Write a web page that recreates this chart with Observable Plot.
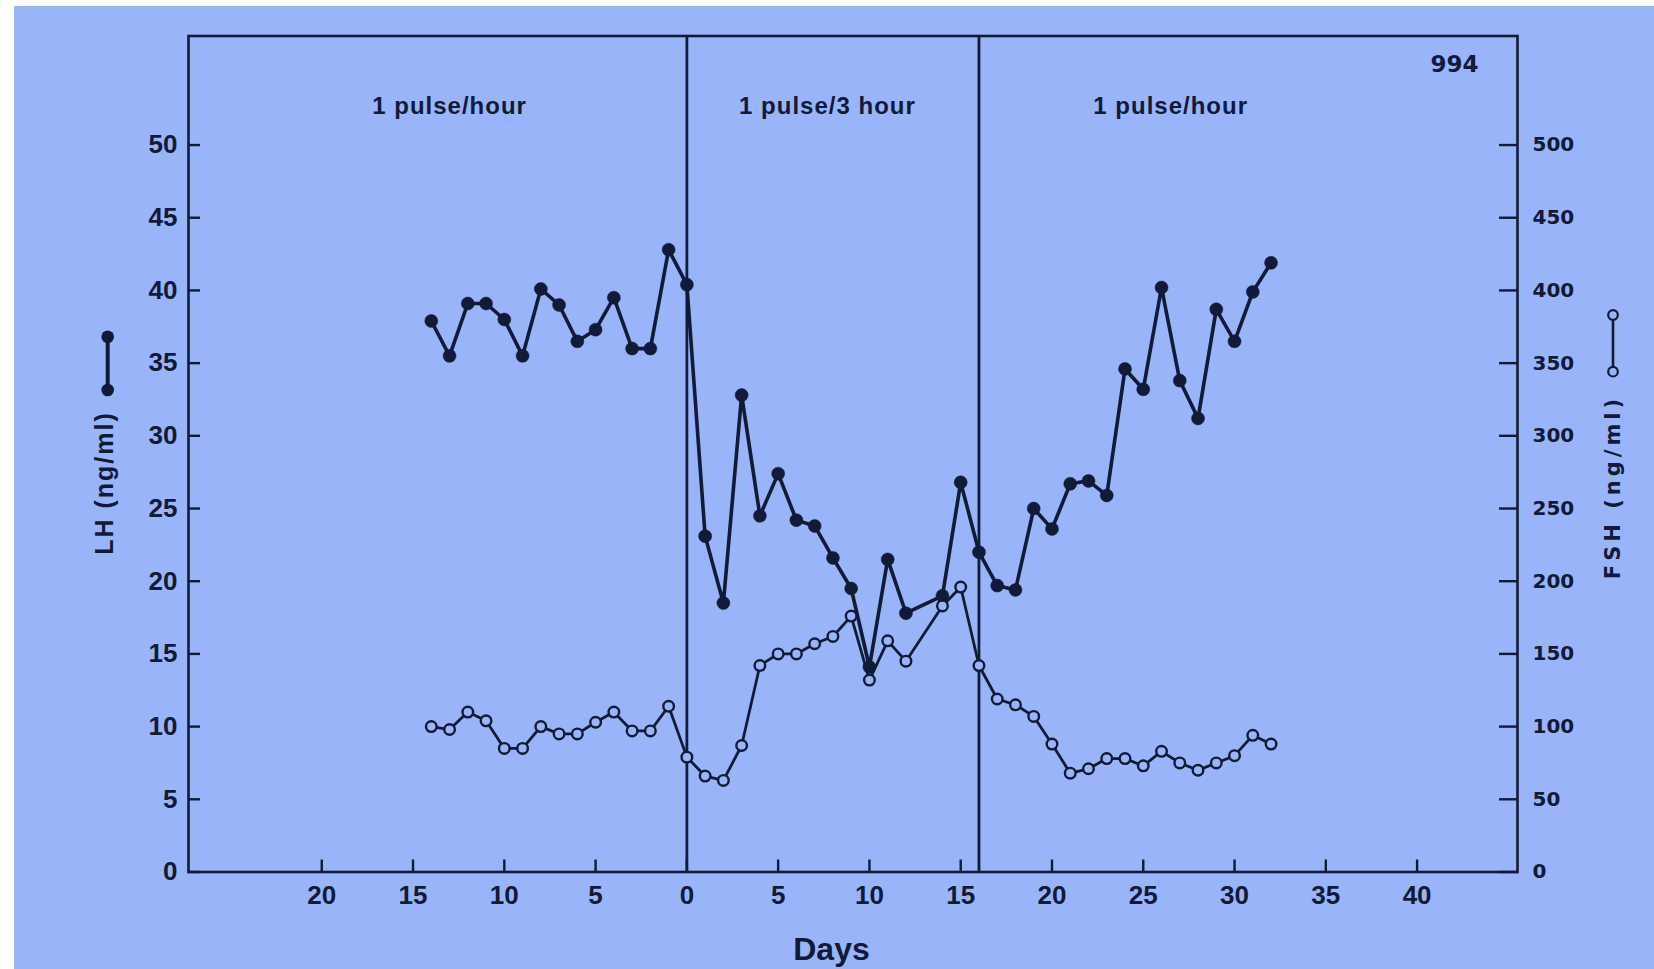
<!DOCTYPE html>
<html>
<head>
<meta charset="utf-8">
<script src="https://cdn.jsdelivr.net/npm/d3@7"></script>
<script src="https://cdn.jsdelivr.net/npm/@observablehq/plot@0.6"></script>
<style>
  html, body { margin: 0; padding: 0; background: #ffffff; width: 1654px; height: 969px; overflow: hidden; }
  #chart { position: absolute; left: 14px; top: 6px; width: 1640px; height: 963px; background: #9ab4fa; }
  #chart svg { display: block; }
</style>
</head>
<body>
<div id="chart"></div>
<script>
// ---- data ----
const days = [-14,-13,-12,-11,-10,-9,-8,-7,-6,-5,-4,-3,-2,-1,0,
  1,2,3,4,5,6,7,8,9,10,11,12,
  14,15,16,17,18,19,20,21,22,23,24,25,26,27,28,29,30,31,32];
const lhValues = [37.9,35.5,39.1,39.1,38.0,35.5,40.1,39.0,36.5,37.3,39.5,36.0,36.0,42.8,40.4,
  23.1,18.5,32.8,24.5,27.4,24.2,23.8,21.6,19.5,14.1,21.5,17.8,
  19.0,26.8,22.0,19.7,19.4,25.0,23.6,26.7,26.9,25.9,34.6,33.2,40.2,33.8,31.2,38.7,36.5,39.9,41.9];
const fshValues = [100,98,110,104,85,85,100,95,95,103,110,97,97,114,79,
  66,63,87,142,150,150,157,162,176,132,159,145,
  183,196,142,119,115,107,88,68,71,78,78,73,83,75,70,75,80,94,88];

const lhTicks = [0,5,10,15,20,25,30,35,40,45,50];
const fshTicks = [0,50,100,150,200,250,300,350,400,450,500];
const dayTicks = [-20,-15,-10,-5,0,5,10,15,20,25,30,35,40];
const phaseBounds = [0, 16];
const phaseLabels = ["1 pulse/hour", "1 pulse/3 hour", "1 pulse/hour"];
const phaseLabelDays = [-13, 7.7, 26.5];
const figureId = "994";
const lhTitle = "LH (ng/ml)";
const fshTitle = "FSH (ng/ml)";
const xTitle = "Days";
const fshPerLh = 10;

const data = days.map((d, i) => ({day: d, lh: lhValues[i], fsh: fshValues[i]}));
const phases = phaseLabels.map((t, i) => ({label: t, day: phaseLabelDays[i]}));

const ink = "#111a36";
const bg = "#9ab4fa";
const sans = "'Liberation Sans', Arial, Helvetica, sans-serif";
const round = "'DejaVu Sans', Verdana, sans-serif";

const chart = Plot.plot({
  width: 1640,
  height: 963,
  marginLeft: 174,
  marginRight: 137,
  marginTop: 29.5,
  marginBottom: 97.5,
  style: {background: "transparent", color: ink, fontFamily: sans, overflow: "visible"},
  x: {domain: [-27.3, 45.5]},
  y: {domain: [0, 57.5]},
  marks: [
    Plot.frame({stroke: ink, strokeWidth: 2.6}),
    Plot.ruleX(phaseBounds, {stroke: ink, strokeWidth: 2.8}),
    Plot.axisY(lhTicks, {anchor: "left", tickSize: -12, tickPadding: 23, fontSize: 26, fontWeight: "bold", stroke: ink, strokeWidth: 2.4, label: null}),
    Plot.axisY(fshTicks.map(v => v / fshPerLh), {anchor: "right", tickSize: -19, tickPadding: 34, tickFormat: d => Math.round(d * fshPerLh), fontFamily: round, fontSize: 20, fontWeight: 600, stroke: ink, strokeWidth: 2.4, label: null}),
    Plot.axisX(dayTicks, {anchor: "bottom", tickSize: -12, tickPadding: 26, tickFormat: d => Math.abs(d), fontSize: 26, fontWeight: "bold", stroke: ink, strokeWidth: 2.4, label: null}),
    Plot.line(data, {x: "day", y: "lh", stroke: ink, strokeWidth: 3.6}),
    Plot.dot(data, {x: "day", y: "lh", r: 6.5, fill: ink, stroke: ink, strokeWidth: 0.5}),
    Plot.line(data, {x: "day", y: d => d.fsh / fshPerLh, stroke: ink, strokeWidth: 2.8}),
    Plot.dot(data, {x: "day", y: d => d.fsh / fshPerLh, r: 5.3, fill: bg, stroke: ink, strokeWidth: 2.4}),
    Plot.text(phases, {x: "day", text: "label", frameAnchor: "top", dy: 70, lineAnchor: "middle", fontSize: 24, fontWeight: "bold", fill: ink}),
    Plot.text([figureId], {frameAnchor: "top-right", dx: -39, dy: 28.5, textAnchor: "end", lineAnchor: "middle", fontFamily: round, fontSize: 23, fontWeight: 600, fill: ink}),
    Plot.text([xTitle], {frameAnchor: "bottom", dx: -21.5, dy: 77.5, lineAnchor: "middle", fontSize: 32, fontWeight: "bold", fill: ink})
  ]
});

document.getElementById("chart").appendChild(chart);

const svg = d3.select(chart);
svg.selectAll("text").each(function() {
  if (this.textContent.startsWith("1 pulse")) this.style.letterSpacing = "1px";
});

// rotated axis titles
svg.append("text")
  .attr("transform", "translate(90,477) rotate(-90)")
  .attr("text-anchor", "middle").attr("dominant-baseline", "central")
  .attr("font-family", sans).attr("font-size", 25).attr("font-weight", "bold")
  .attr("fill", ink).style("letter-spacing", "2px")
  .text(lhTitle);
svg.append("text")
  .attr("transform", "translate(1599,481) rotate(-90)")
  .attr("text-anchor", "middle").attr("dominant-baseline", "central")
  .attr("font-family", round).attr("font-size", 21).attr("font-weight", 600)
  .attr("fill", ink).style("letter-spacing", "4px")
  .text(fshTitle);

// legend glyphs beside the axis titles
const lg = svg.append("g");
lg.append("line").attr("x1", 93.7).attr("x2", 93.7).attr("y1", 330.7).attr("y2", 384)
  .attr("stroke", ink).attr("stroke-width", 4);
lg.selectAll("circle.f").data([330.7, 384]).join("circle")
  .attr("cx", 93.7).attr("cy", d => d).attr("r", 6.3).attr("fill", ink);
const rg = svg.append("g");
rg.append("line").attr("x1", 1599).attr("x2", 1599).attr("y1", 309).attr("y2", 365.7)
  .attr("stroke", ink).attr("stroke-width", 2.6);
rg.selectAll("circle.o").data([309, 365.7]).join("circle")
  .attr("cx", 1599).attr("cy", d => d).attr("r", 4.8).attr("fill", bg)
  .attr("stroke", ink).attr("stroke-width", 2.2);
</script>
</body>
</html>
